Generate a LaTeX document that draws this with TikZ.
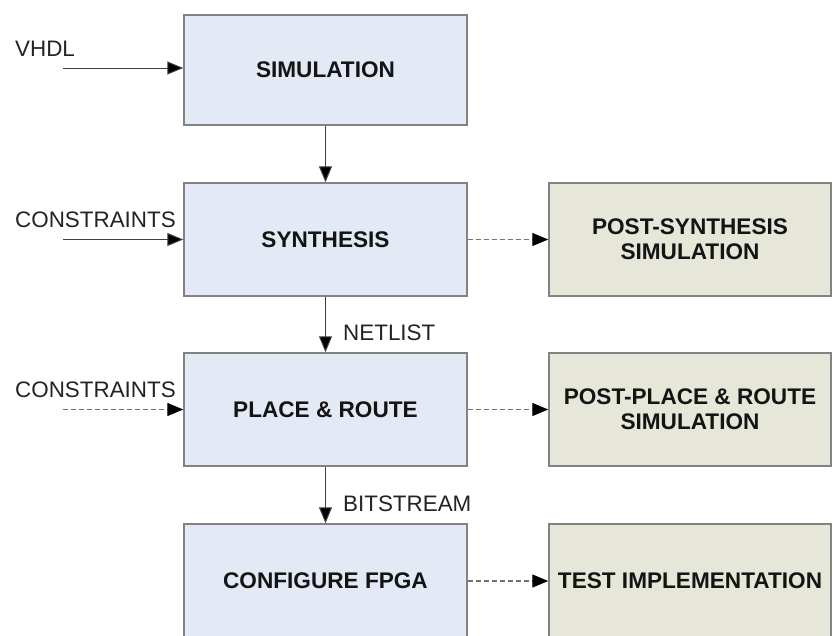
\documentclass[tikz,border=0pt]{standalone}
\usepackage{fontspec}
\setmainfont{Liberation Sans}
\usetikzlibrary{arrows.meta}

\definecolor{flowblue}{RGB}{228,234,245}
\definecolor{checkbeige}{RGB}{230,230,217}
\definecolor{boxedge}{RGB}{130,130,130}
\definecolor{inktext}{RGB}{35,35,35}
\definecolor{dashgray}{RGB}{115,115,115}

\tikzset{
  basebox/.style={draw=boxedge, line width=1.5pt, rectangle, inner sep=4pt,
    align=center, text=black!92,
    font=\fontsize{22.6}{25}\selectfont\bfseries},
  flowbox/.style={basebox, fill=flowblue, minimum width=283pt},
  checkbox/.style={basebox, fill=checkbeige, minimum width=282pt},
  plainlabel/.style={inner sep=0pt, text=inktext,
    font=\fontsize{22.4}{25}\selectfont},
  flowarrow/.style={draw=black!75, line width=1pt,
    -{Triangle[length=16pt,width=13pt,fill=black]}},
  sidearrow/.style={draw=dashgray, line width=1.3pt, dash pattern=on 5pt off 3pt,
    -{Triangle[length=16pt,width=13pt,fill=black,color=black]}}
}

\begin{document}
\begin{tikzpicture}[x=1pt,y=-1pt]
  % page frame
  \fill[white] (0,0) rectangle (833,635);
  \useasboundingbox (0,0) rectangle (833,635);

  % main design flow
  \node[flowbox, minimum height=110pt] (sim)   at (325.5,70)  {SIMULATION};
  \node[flowbox, minimum height=113pt] (syn)   at (325.5,239.5) {SYNTHESIS};
  \node[flowbox, minimum height=113pt] (par)   at (325.5,409.5) {PLACE \& ROUTE};
  \node[flowbox, minimum height=114pt] (cfg)   at (325.5,581) {CONFIGURE FPGA};

  % verification steps
  \node[checkbox, minimum height=113pt] (psyn) at (690,239.5) {POST-SYNTHESIS\\SIMULATION};
  \node[checkbox, minimum height=113pt] (ppar) at (690,409.5) {POST-PLACE \& ROUTE\\SIMULATION};
  \node[checkbox, minimum height=114pt] (test) at (690,581) {TEST IMPLEMENTATION};

  % inputs
  \node[plainlabel, anchor=west] (lvhdl) at (15,49)  {VHDL};
  \node[plainlabel, anchor=west] (lcon1) at (15,220) {CONSTRAINTS};
  \node[plainlabel, anchor=west] (lcon2) at (15,390) {CONSTRAINTS};
  \coordinate (invhdl) at (63,68);
  \coordinate (incon1) at (63,239.5);
  \coordinate (incon2) at (63,409.5);

  \draw[flowarrow] (invhdl) -- (invhdl -| sim.west);
  \draw[flowarrow] (incon1) -- (incon1 -| syn.west);
  \draw[sidearrow] (incon2) -- (incon2 -| par.west);

  % flow between stages
  \draw[flowarrow] (sim.south) -- (syn.north);
  \draw[flowarrow] (syn.south) -- (par.north);
  \draw[flowarrow] (par.south) -- (cfg.north);
  \node[plainlabel, anchor=west] (lnet) at (343,333) {NETLIST};
  \node[plainlabel, anchor=west] (lbit) at (343,504) {BITSTREAM};

  % hand-offs to verification
  \draw[sidearrow] (syn.east) -- (psyn.west);
  \draw[sidearrow] (par.east) -- (ppar.west);
  \draw[sidearrow] (cfg.east) -- (test.west);
\end{tikzpicture}
\end{document}
